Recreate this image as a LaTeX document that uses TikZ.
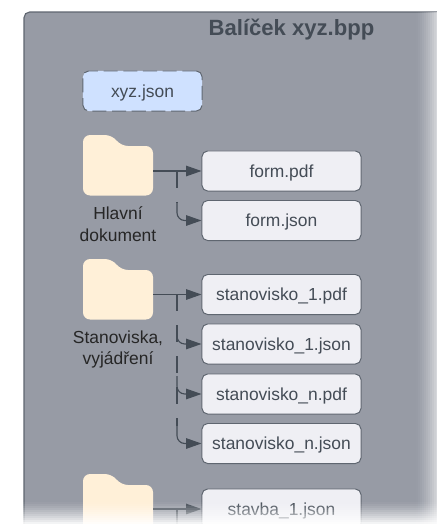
\documentclass[tikz,border=0pt]{standalone}
\usepackage{fontspec}
\setmainfont{Liberation Sans}
\usepackage{tikz}
\usetikzlibrary{arrows.meta}
\definecolor{panelgray}{HTML}{979BA5}
\definecolor{edgegray}{HTML}{5F6670}
\definecolor{linegray}{HTML}{444C56}
\definecolor{foldercream}{HTML}{FFF0D8}
\definecolor{boxwhite}{HTML}{EFEFF4}
\definecolor{jsonblue}{HTML}{CFE1FF}
\tikzset{
	filebox/.style={rectangle, draw=edgegray, line width=0.7pt, rounded corners=4pt, fill=boxwhite, text=linegray, minimum width=3.975cm, minimum height=1cm, text height=8.9pt, text depth=0pt, font=\fontsize{12.4}{15}\selectfont},
	folderbody/.style={rectangle, minimum width=1.75cm, minimum height=1.25cm},
	folderlabel/.style={align=center, text=black!85, font=\fontsize{12.4}{15.6}\selectfont},
	link/.style={draw=linegray, line width=0.8pt, -{Triangle[length=11pt,width=7.5pt]}},
	sublink/.style={link, rounded corners=5.5pt},
	trunk/.style={draw=linegray, line width=0.8pt, dash pattern=on 12pt off 10pt}
}
\begin{document}
\begin{tikzpicture}[x=0.025cm, y=-0.025cm]
	\useasboundingbox (0,0) rectangle (436,528);
	\draw[edgegray, fill=panelgray, line width=0.8pt, rounded corners=4pt] (24,12) rectangle (480,570);
	\node[text=linegray, font=\fontsize{15.7}{18}\selectfont\bfseries] (title) at (291.5,30) {Balíček xyz.bpp};
	\node[filebox, fill=jsonblue, dashed, dash pattern=on 10pt off 4pt, minimum width=2.975cm] (xyz) at (142.5,91) {xyz.json};
	% folders
	\foreach \n/\y in {f1/170.5,f2/294.5,f3/509.5}{
		\fill[foldercream, rounded corners=5pt] (83,\y+25) -- (83,\y-35.5) -- (112,\y-35.5) -- (121,\y-24.5) -- (153,\y-24.5) -- (153,\y+25) -- cycle;
		\node[folderbody] (\n) at (118,\y) {};
	}
	\node[folderlabel] (l1) at (118,224) {Hlavní\\dokument};
	\node[folderlabel] (l2) at (118,349.5) {Stanoviska,\\vyjádření};
	% files
	\foreach \n/\y/\t in {b1/171/form.pdf,b2/220.5/form.json,b3/294.5/stanovisko\_1.pdf,b4/344/stanovisko\_1.json,b5/394/stanovisko\_n.pdf,b6/443.5/stanovisko\_n.json,b7/509/stavba\_1.json}
		\node[filebox] (\n) at (281.5,\y) {\t};
	\coordinate (j1) at (177,171);
	\coordinate (j2) at (177,294.5);
	\coordinate (j3) at (177,509);
	\coordinate (e3) at (177,540);
	\draw[link] (f1.east |- j1) -- (b1.west);
	\draw[link] (f2.east) -- (b3.west);
	\draw[link] (f3.east |- j3) -- (b7.west);
	\foreach \x/\j in {2/j1,4/j2,5/j2,6/j2}{
		\path (\j |- b\x.west) ++(0,-18) coordinate (k\x);
		\draw[sublink] (k\x) |- (b\x.west);
	}
	\draw[trunk] (j1) -- (k2);
	\draw[trunk] (j2) -- (k6);
	\draw[trunk] (j3) -- (e3);
	% faded edges
	\foreach \i in {0,...,11}{
		\pgfmathsetmacro{\op}{0.6*(\i/11)^1.5}
		\fill[white, opacity=\op] (414+2*\i,12) rectangle (416+2*\i,535);
	}
	\foreach \i in {0,...,12}{
		\pgfmathsetmacro{\op}{(\i/12)^1.3}
		\fill[white, opacity=\op] (-5,500+2*\i) rectangle (450,502+2*\i);
	}
	\fill[white] (-5,524) rectangle (450,535);
\end{tikzpicture}
\end{document}
